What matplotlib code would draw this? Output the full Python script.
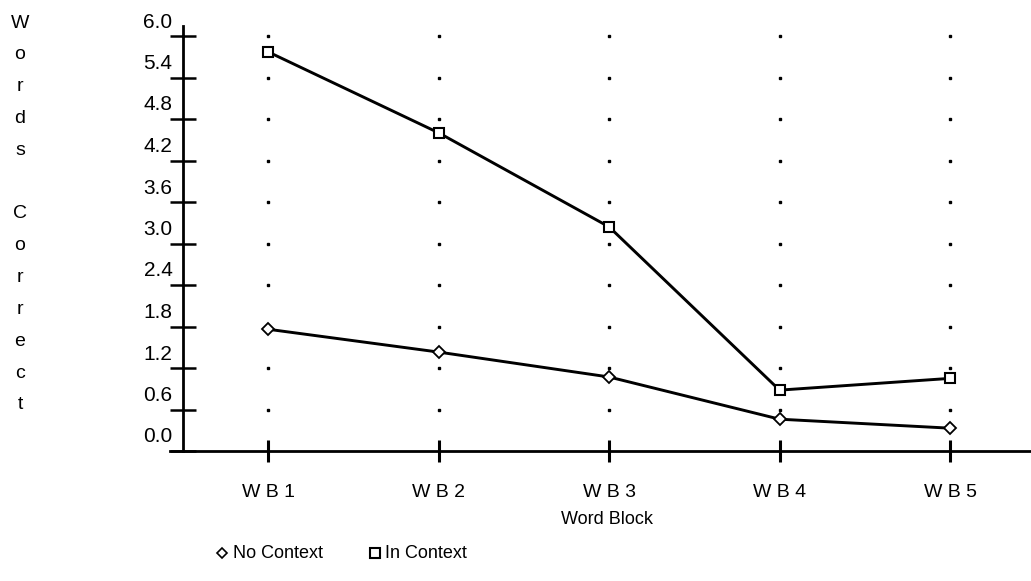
import matplotlib
matplotlib.use("Agg")
import matplotlib.pyplot as plt
import matplotlib.transforms as mtransforms
from matplotlib.lines import Line2D

categories = ["W B 1", "W B 2", "W B 3", "W B 4", "W B 5"]
no_context = [1.76, 1.43, 1.07, 0.46, 0.33]
in_context = [5.77, 4.60, 3.24, 0.88, 1.05]
yticks = [0.0, 0.6, 1.2, 1.8, 2.4, 3.0, 3.6, 4.2, 4.8, 5.4, 6.0]
ytick_labels = ["0.0", "0.6", "1.2", "1.8", "2.4", "3.0", "3.6", "4.2", "4.8", "5.4", "6.0"]
xlabel = "Word Block"
ylabel = "Words Correct"
legend_labels = ["No Context", "In Context"]

plt.rcParams['font.family'] = ['Liberation Sans', 'DejaVu Sans']

W, H = 1031, 581
fig = plt.figure(figsize=(W / 100, H / 100), dpi=100)
ax = fig.add_axes([183 / W, 1 - 451 / H, (1031 - 183) / W, (451 - 36) / H])

x = list(range(len(categories)))
ax.set_xlim(-0.5, 4.475)
ax.set_ylim(0, 6.0)

# dotted grid at category positions and tick levels
for xi in x:
    ax.plot([xi] * (len(yticks) - 1), yticks[1:], linestyle='none', marker='s',
            markersize=1.5, color='black', zorder=1, clip_on=False)

ax.plot(x, no_context, color='black', lw=2.1, marker='D', markersize=6,
        markerfacecolor='white', markeredgecolor='black', markeredgewidth=1.3, zorder=3)
ax.plot(x, in_context, color='black', lw=2.1, marker='s', markersize=7.8,
        markerfacecolor='white', markeredgecolor='black', markeredgewidth=1.5, zorder=3)

for s in ['top', 'right']:
    ax.spines[s].set_visible(False)
for s in ['left', 'bottom']:
    ax.spines[s].set_linewidth(2.0)

# extend x-axis slightly left of y-axis, and y-axis slightly above the top tick
ax.add_line(Line2D([-0.015, 0], [0, 0], transform=ax.transAxes, color='black',
                   lw=2.0, clip_on=False))
ax.add_line(Line2D([0, 0], [1, 1.025], transform=ax.transAxes, color='black',
                   lw=2.0, clip_on=False))

ax.set_yticks(yticks)
ax.set_yticklabels(ytick_labels, fontsize=15)
ax.tick_params(axis='y', direction='inout', length=19, width=1.8, pad=-2)
offset = mtransforms.ScaledTranslation(0, 0.16, fig.dpi_scale_trans)
for lab in ax.get_yticklabels():
    lab.set_transform(lab.get_transform() + offset)

ax.set_xticks(x)
ax.set_xticklabels(categories, fontsize=14)
ax.tick_params(axis='x', direction='inout', length=16, width=2.2, pad=16)

fig.text(607 / W, 1 - 519 / H, xlabel, fontsize=13, ha='center', va='center')

# vertical stacked y label
fig.text(20 / W, 1 - 214 / H, "\n".join(list(ylabel)), fontsize=14, ha='center',
         va='center', linespacing=2.14)

# legend
fig.add_artist(Line2D([222 / W], [1 - 553 / H], marker='D', markersize=5,
                      markerfacecolor='white', markeredgecolor='black',
                      markeredgewidth=1.2, transform=fig.transFigure))
fig.text(233 / W, 1 - 553 / H, legend_labels[0], fontsize=13, ha='left', va='center')
fig.add_artist(Line2D([375 / W], [1 - 553 / H], marker='s', markersize=7,
                      markerfacecolor='white', markeredgecolor='black',
                      markeredgewidth=1.5, transform=fig.transFigure))
fig.text(385 / W, 1 - 553 / H, legend_labels[1], fontsize=13, ha='left', va='center')

fig.savefig("out.png", dpi=100)
